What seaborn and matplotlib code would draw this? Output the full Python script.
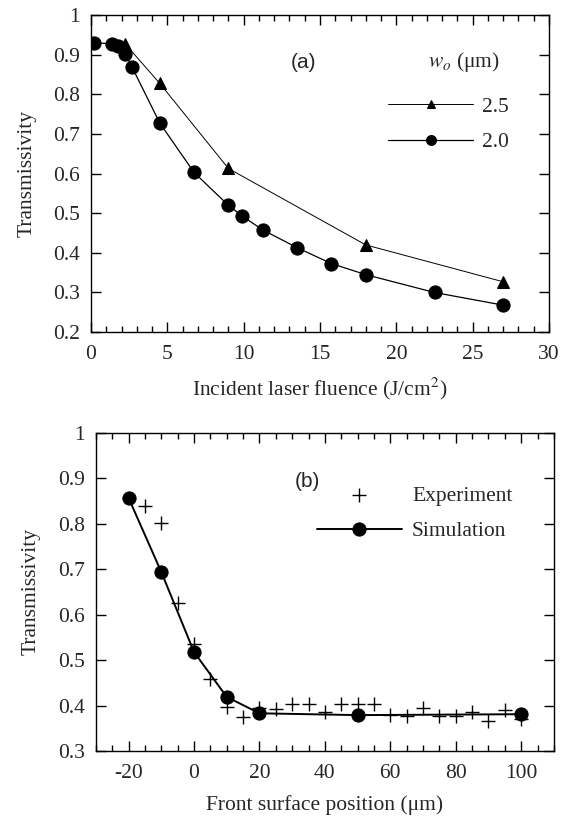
import matplotlib
matplotlib.use("Agg")
import matplotlib.pyplot as plt
import pandas as pd
import seaborn as sns
from matplotlib.ticker import MultipleLocator

# panel (a): transmissivity vs fluence for two beam waists
fluence_20 = [0.2, 1.35, 1.8, 2.25, 2.7, 4.5, 6.75, 9.0, 9.9, 11.25, 13.5, 15.75, 18.0, 22.5, 27.0]
trans_20 = [0.930, 0.928, 0.922, 0.903, 0.868, 0.728, 0.603, 0.520, 0.493, 0.458, 0.413, 0.373, 0.345, 0.300, 0.268]
fluence_25 = [2.25, 4.5, 9.0, 18.0, 27.0]
trans_25 = [0.927, 0.828, 0.613, 0.420, 0.327]

# panel (b): transmissivity vs front surface position
sim_pos = [-20, -10, 0, 10, 20, 50, 100]
sim_trans = [0.857, 0.694, 0.518, 0.419, 0.383, 0.379, 0.381]
exp_pos = [-15, -10, -5, 0, 5, 10, 15, 20, 25, 30, 35, 40, 45, 50, 55, 60, 65, 70, 75, 80, 85, 90, 95, 100]
exp_trans = [0.840, 0.801, 0.625, 0.535, 0.458, 0.397, 0.375, 0.395, 0.393, 0.404, 0.404, 0.386, 0.403, 0.403,
             0.403, 0.380, 0.376, 0.395, 0.376, 0.376, 0.385, 0.367, 0.390, 0.370]

sns.set_style("ticks")
plt.rcParams["font.family"] = ["Liberation Serif", "DejaVu Serif"]
plt.rcParams["mathtext.fontset"] = "stix"
plt.rcParams["axes.unicode_minus"] = False
plt.rcParams["axes.linewidth"] = 1.0
FS = 15.5


def style_axes(ax, xminor):
    ax.tick_params(which="both", direction="in", top=True, right=True, labelsize=FS, color="black", width=1.0)
    ax.tick_params(which="major", length=7)
    ax.tick_params(which="minor", length=4)
    ax.tick_params(axis="x", which="major", pad=9)
    ax.tick_params(axis="y", which="major", pad=8)
    ax.xaxis.set_minor_locator(MultipleLocator(xminor))
    ax.yaxis.set_major_locator(MultipleLocator(0.1))
    ax.yaxis.set_major_formatter(plt.FuncFormatter(lambda v, p: "1" if abs(v - 1) < 1e-9 else f"{v:.1f}"))
    for s in ax.spines.values():
        s.set_color("black")


fig = plt.figure(figsize=(5.74, 8.18), dpi=100)

# ---- (a)
ax1 = fig.add_axes([0.1585, 0.594, 0.798, 0.3875])
df25 = pd.DataFrame({"x": fluence_25, "y": trans_25})
df20 = pd.DataFrame({"x": fluence_20, "y": trans_20})
sns.lineplot(data=df25, x="x", y="y", ax=ax1, color="black", lw=0.7, marker="^", markersize=8,
             markeredgecolor="black", label="2.5")
sns.lineplot(data=df20, x="x", y="y", ax=ax1, color="black", lw=0.9, marker="o", markersize=9.5,
             markeredgecolor="black", label="2.0")
ax1.set_xlim(0, 30)
ax1.set_ylim(0.2, 1.0)
ax1.xaxis.set_major_locator(MultipleLocator(5))
style_axes(ax1, 1)
ax1.set_xlabel("Incident laser fluence (J/cm$^2$)", fontsize=FS, labelpad=9)
ax1.set_ylabel("Transmissivity", fontsize=FS, labelpad=12)
ax1.text(13.9, 0.881, "(a)", fontsize=15, family="Liberation Sans", ha="center", va="center")
ax1.text(24.4, 0.881, r"$w_o$ (μm)", fontsize=FS, ha="center", va="center")
ax1.legend(loc="center left", bbox_to_anchor=(0.676, 0.8478), bbox_transform=fig.transFigure,
           frameon=False, fontsize=FS, markerscale=0.75, handlelength=3.95, handletextpad=0.42,
           labelspacing=0.72, borderpad=0, borderaxespad=0)

# ---- (b)
ax2 = fig.add_axes([0.167, 0.0819, 0.798, 0.3888])
dfe = pd.DataFrame({"x": exp_pos, "y": exp_trans})
dfs = pd.DataFrame({"x": sim_pos, "y": sim_trans})
sns.scatterplot(data=dfe, x="x", y="y", ax=ax2, marker="+", s=100, color="black", linewidth=1.0,
                label="Experiment", zorder=3)
sns.lineplot(data=dfs, x="x", y="y", ax=ax2, color="black", lw=1.4, marker="o", markersize=9.5,
             markeredgecolor="black", label="Simulation", zorder=4)
ax2.set_xlim(-30, 110)
ax2.set_ylim(0.3, 1.0)
ax2.xaxis.set_major_locator(MultipleLocator(20))
style_axes(ax2, 5)
ax2.set_xlabel("Front surface position (μm)", fontsize=FS, labelpad=9)
ax2.set_ylabel("Transmissivity", fontsize=FS, labelpad=12)
ax2.text(34.6, 0.893, "(b)", fontsize=15, family="Liberation Sans", ha="center", va="center")
ax2.legend(loc="center left", bbox_to_anchor=(0.552, 0.3723), bbox_transform=fig.transFigure,
           frameon=False, fontsize=FS, handlelength=3.95, handletextpad=0.47,
           labelspacing=0.72, borderpad=0, borderaxespad=0)

fig.savefig("out.png", dpi=100)
